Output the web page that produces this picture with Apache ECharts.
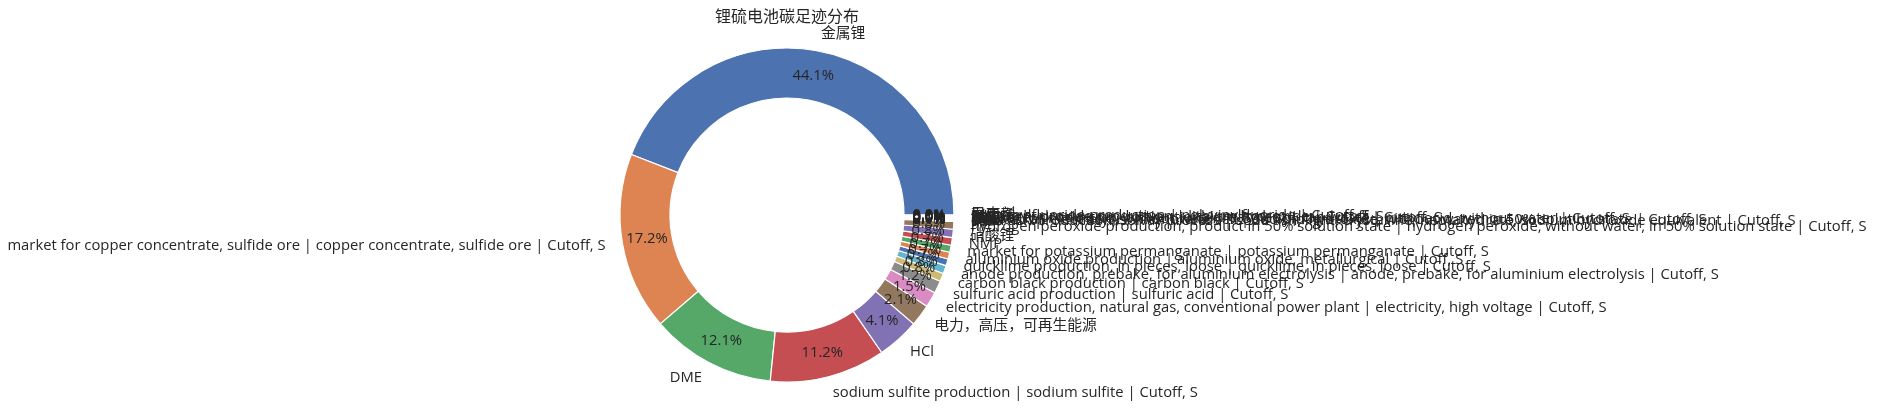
<!DOCTYPE html>
<html><head><meta charset="utf-8">
<script src="https://cdn.jsdelivr.net/npm/echarts@6/dist/echarts.min.js"></script>
<style>html,body{margin:0;padding:0;background:#fff}#c{width:1877px;height:412px}</style>
</head><body><div id="c"></div>
<script>
const chartTitle = '锂硫电池碳足迹分布';
const categories = [
  '金属锂',
  'market for copper concentrate, sulfide ore | copper concentrate, sulfide ore | Cutoff, S',
  'DME',
  'sodium sulfite production | sodium sulfite | Cutoff, S',
  'HCl',
  '电力，高压，可再生能源',
  'electricity production, natural gas, conventional power plant | electricity, high voltage | Cutoff, S',
  'sulfuric acid production | sulfuric acid | Cutoff, S',
  'carbon black production | carbon black | Cutoff, S',
  'anode production, prebake, for aluminium electrolysis | anode, prebake, for aluminium electrolysis | Cutoff, S',
  'quicklime production, in pieces, loose | quicklime, in pieces, loose | Cutoff, S',
  'aluminium oxide production | aluminium oxide, metallurgical | Cutoff, S',
  'market for potassium permanganate | potassium permanganate | Cutoff, S',
  'NMP',
  '硝酸锂',
  'hydrogen peroxide production, product in 50% solution state | hydrogen peroxide, without water, in 50% solution state | Cutoff, S',
  '硫',
  'soda ash production, solvay process | soda ash, light, crystalline, heptahydrate, sodium hydroxide equivalent | Cutoff, S',
  'DOL',
  'chlor-alkali electrolysis, membrane cell | sodium hydroxide, without water, in 50% solution state | Cutoff, S',
  '隔膜',
  'market for nitric acid, without water, in 50% solution state | nitric acid, without water | Cutoff, S',
  'LiTFSI',
  'tap water production, conventional treatment | tap water | Cutoff, S',
  '铝箔',
  'lithium hydroxide production | lithium hydroxide | Cutoff, S',
  'PVDF',
  'polyvinylfluoride production | polyvinylfluoride | Cutoff, S',
  '聚丙烯',
  '导电剂'
];
const shares = [
  44.1, 17.2, 12.1, 11.2, 4.1, 2.1, 1.5, 1.2, 0.8, 0.8,
  0.66, 0.66, 0.68, 0.74, 0.80, 0.76,
  0.045, 0.045, 0.044, 0.044, 0.043, 0.043, 0.043, 0.043,
  0.042, 0.042, 0.042, 0.042, 0.041, 0.041
];
const palette = ['#4C72B0', '#DD8452', '#55A868', '#C44E52', '#8172B3',
                 '#937860', '#DA8BC3', '#8C8C8C', '#CCB974', '#64B5CD'];

const FONT = '"Open Sans", "Noto Sans CJK SC", sans-serif';
const TXT = '#262626';
const data = categories.map((n, i) => ({
  name: n, value: shares[i], itemStyle: { color: palette[i % palette.length] }
}));

const chart = echarts.init(document.getElementById('c'), null, { renderer: 'canvas' });
chart.setOption({
  animation: false,
  backgroundColor: '#ffffff',
  title: {
    text: chartTitle, left: 782, top: 4, textAlign: 'center',
    textStyle: { fontSize: 16, fontWeight: 'normal', color: TXT, fontFamily: FONT }
  },
  series: [
    {
      type: 'pie', center: [787, 215], radius: [117, 167],
      startAngle: 0, clockwise: false, avoidLabelOverlap: false,
      silent: true,
      itemStyle: { borderColor: '#ffffff', borderWidth: 1.2 },
      label: {
        show: true, position: 'outside', distanceToLabelLine: 0,
        fontSize: 14.8, color: TXT, fontFamily: FONT, verticalAlign: 'middle'
      },
      labelLine: { show: false, length: 17, length2: 0 },
      labelLayout: { hideOverlap: false, moveOverlap: null },
      emphasis: { disabled: true },
      data: data
    },
    {
      type: 'pie', center: [787, 215], radius: [114, 164],
      startAngle: 0, clockwise: false, avoidLabelOverlap: false,
      silent: true,
      itemStyle: { color: 'rgba(0,0,0,0)', borderWidth: 0 },
      label: {
        show: true, position: 'inside',
        formatter: p => p.percent.toFixed(1) + '%',
        fontSize: 14.8, color: TXT, fontFamily: FONT
      },
      labelLine: { show: false },
      labelLayout: { hideOverlap: false, moveOverlap: null },
      emphasis: { disabled: true },
      data: categories.map((n, i) => ({ name: n, value: shares[i] }))
    }
  ]
});
</script>
</body></html>
